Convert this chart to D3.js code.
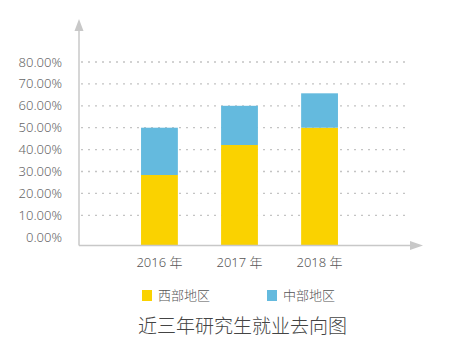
<!DOCTYPE html>
<html>
<head>
<meta charset="utf-8">
<script src="https://cdn.jsdelivr.net/npm/d3@7"></script>
<style>
  body { margin: 0; background: #fff; }
  text { font-family: "Noto Sans", "Noto Sans CJK SC", sans-serif; font-weight: 300; }
</style>
</head>
<body>
<svg id="chart"></svg>
<script>
const years = ['2016 年', '2017 年', '2018 年'];
const seriesNames = ['西部地区', '中部地区'];
const west = [28.4, 42.1, 50.0];
const central = [21.6, 17.9, 15.7];
const yTicks = [0, 10, 20, 30, 40, 50, 60, 70, 80];
const colors = ['#fad200', '#64bade'];
const title = '近三年研究生就业去向图';

const width = 462, height = 353;
const svg = d3.select('#chart').attr('width', width).attr('height', height);

// axis origin sits a little under the 0% gridline, as in the picture
const axisX = 79, axisY = 245.5;

const x = d3.scaleBand()
    .domain(years)
    .range([axisX, 400])
    .paddingInner(0.54)
    .paddingOuter(0.775);

const y = d3.scaleLinear()
    .domain([0, 80])
    .range([237.2, 62]);

const rows = years.map((yr, i) => ({ year: yr, west: west[i], central: central[i] }));
const stack = d3.stack().keys(['west', 'central'])(rows);

// dotted gridlines
svg.append('g')
    .selectAll('line')
    .data(yTicks.filter(d => d > 0))
    .join('line')
    .attr('x1', axisX + 2)
    .attr('x2', 410)
    .attr('y1', d => y(d))
    .attr('y2', d => y(d))
    .attr('stroke', '#c4c4c4')
    .attr('stroke-width', 1.3)
    .attr('stroke-dasharray', '2,5');

// y labels
svg.append('g')
    .selectAll('text')
    .data(yTicks)
    .join('text')
    .attr('x', 62)
    .attr('y', d => y(d))
    .attr('dy', '0.35em')
    .attr('text-anchor', 'end')
    .attr('fill', '#666')
    .attr('font-size', 13)
    .text(d => d3.format('.2f')(d) + '%');

// bars
svg.append('g')
    .selectAll('g')
    .data(stack)
    .join('g')
    .attr('fill', (d, i) => colors[i])
    .selectAll('rect')
    .data(d => d)
    .join('rect')
    .attr('x', d => x(d.data.year))
    .attr('width', x.bandwidth())
    .attr('y', d => y(d[1]))
    .attr('height', d => (d[0] === 0 ? axisY : y(d[0])) - y(d[1]));

// axes with arrows
const axisColor = '#c8c8c8';
svg.append('line')
    .attr('x1', axisX).attr('x2', axisX)
    .attr('y1', axisY).attr('y2', 28)
    .attr('stroke', axisColor).attr('stroke-width', 1.5);
svg.append('path')
    .attr('d', `M${axisX},19 L${axisX - 4.5},31 L${axisX + 4.5},31 Z`)
    .attr('fill', axisColor);
svg.append('line')
    .attr('x1', axisX).attr('x2', 412)
    .attr('y1', axisY).attr('y2', axisY)
    .attr('stroke', axisColor).attr('stroke-width', 1.5);
svg.append('path')
    .attr('d', `M423,${axisY} L410,${axisY - 4.5} L410,${axisY + 4.5} Z`)
    .attr('fill', axisColor);

// x labels
svg.append('g')
    .selectAll('text')
    .data(years)
    .join('text')
    .attr('x', d => x(d) + x.bandwidth() / 2)
    .attr('y', 267)
    .attr('text-anchor', 'middle')
    .attr('fill', '#555')
    .attr('font-size', 13)
    .text(d => d);

// legend
const legendX = [142, 267];
const legend = svg.append('g')
    .selectAll('g')
    .data(seriesNames)
    .join('g')
    .attr('transform', (d, i) => `translate(${legendX[i]}, 290)`);
legend.append('rect')
    .attr('width', 10).attr('height', 11)
    .attr('fill', (d, i) => colors[i]);
legend.append('text')
    .attr('x', 16)
    .attr('y', 5.5)
    .attr('dy', '0.35em')
    .attr('fill', '#555')
    .attr('font-size', 13)
    .text(d => d);

// title
svg.append('text')
    .attr('x', 138)
    .attr('y', 333)
    .attr('fill', '#444')
    .attr('font-size', 19)
    .attr('textLength', 209)
    .text(title);
</script>
</body>
</html>
